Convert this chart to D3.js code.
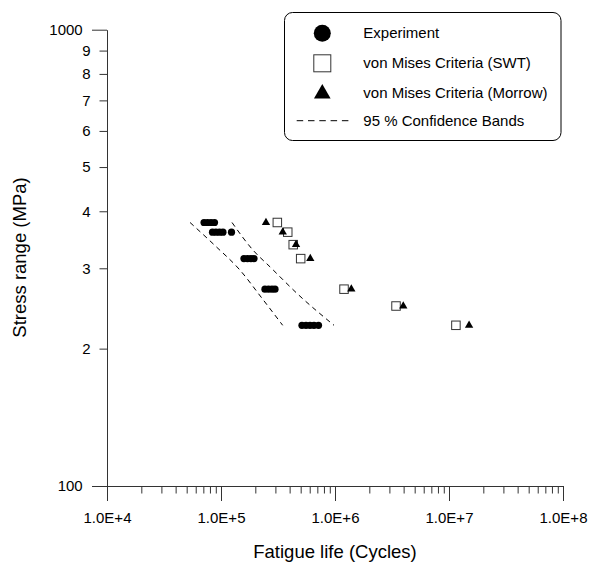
<!DOCTYPE html>
<html>
<head>
<meta charset="utf-8">
<script src="https://cdn.jsdelivr.net/npm/d3@7"></script>
<style>
  html, body { margin: 0; padding: 0; background: #fff; }
  svg { display: block; font-family: "Liberation Sans", Arial, sans-serif; }
</style>
</head>
<body>
<svg id="chart" width="590" height="563"></svg>
<script>
// ---- Data ----
const expCycles = [71000, 76100, 81700, 87700,
                   84200, 90300, 97000, 104000, 123600,
                   159000, 170800, 183000, 194800,
                   243000, 261000, 280000, 297700,
                   513000, 556800, 603600, 654000, 716600];
const expStress = [378, 378, 378, 378,
                   360, 360, 360, 360, 360,
                   315, 315, 315, 315,
                   270, 270, 270, 270,
                   225, 225, 225, 225, 225];

const predStress   = [378, 360, 338, 315, 270, 248, 225];
const swtCycles    = [312000, 385000, 430000, 500000, 1200000, 3430000, 11500000];
const morrowCycles = [248000, 348000, 455000, 607000, 1390000, 3970000, 15000000];

const lowerBandCycles = [53500, 88600, 146800, 228800, 347600];
const lowerBandStress = [378, 336.4, 297.2, 257.9, 225];
const upperBandCycles = [124900, 190900, 269000, 493000, 980000];
const upperBandStress = [378, 328.8, 302.2, 260.6, 225];

const xMajorTicks = [1e4, 1e5, 1e6, 1e7, 1e8];
const xMajorLabels = ["1.0E+4", "1.0E+5", "1.0E+6", "1.0E+7", "1.0E+8"];
const yMajorTicks = [100, 1000];
const yMajorLabels = ["100", "1000"];
const yMinorTicks = [200, 300, 400, 500, 600, 700, 800, 900];
const yMinorLabels = ["2", "3", "4", "5", "6", "7", "8", "9"];

const legendLabels = ["Experiment", "von Mises Criteria (SWT)", "von Mises Criteria (Morrow)", "95 % Confidence Bands"];

// ---- Layout ----
const svg = d3.select("#chart");
const axisColor = "#333";
const x = d3.scaleLog().domain([1e4, 1e8]).range([107, 563]);
const y = d3.scaleLog().domain([100, 1000]).range([486, 29.7]);

const xMinorTicks = [];
[1e4, 1e5, 1e6, 1e7].forEach(d => { for (let k = 2; k <= 9; k++) xMinorTicks.push(d * k); });

function styleAxis(g) {
  g.selectAll("path.domain").attr("stroke", axisColor);
  g.selectAll(".tick line").attr("stroke", axisColor);
  g.selectAll(".tick text").attr("fill", "#000").style("font-size", "15px")
    .style("font-family", '"Liberation Sans", Arial, sans-serif');
}

// x axis minor
svg.append("g").attr("transform", "translate(0,486)")
  .call(d3.axisBottom(x).tickValues(xMinorTicks).tickSize(7.5).tickFormat(""))
  .call(g => g.select(".domain").remove())
  .call(styleAxis);
// x axis major
svg.append("g").attr("transform", "translate(0,486)")
  .call(d3.axisBottom(x).tickValues(xMajorTicks).tickSize(15).tickSizeOuter(0).tickPadding(11.5)
    .tickFormat((d, i) => xMajorLabels[i]))
  .call(styleAxis);

// y axis minor
svg.append("g").attr("transform", "translate(107,0)")
  .call(d3.axisLeft(y).tickValues(yMinorTicks).tickSize(7.5).tickPadding(8.8)
    .tickFormat((d, i) => yMinorLabels[i]))
  .call(g => g.select(".domain").remove())
  .call(styleAxis);
// y axis major
svg.append("g").attr("transform", "translate(107,0)")
  .call(d3.axisLeft(y).tickValues(yMajorTicks).tickSize(15).tickSizeOuter(0).tickPadding(9.3)
    .tickFormat((d, i) => yMajorLabels[i]))
  .call(styleAxis);

// axis titles
svg.append("text").attr("x", 335).attr("y", 557.5).attr("text-anchor", "middle")
  .style("font-size", "18.5px").text("Fatigue life (Cycles)");
svg.append("text").attr("transform", "translate(25.5,257.5) rotate(-90)").attr("text-anchor", "middle")
  .style("font-size", "18.5px").text("Stress range (MPa)");

// confidence bands
const line = d3.line().x(d => x(d[0])).y(d => y(d[1])).curve(d3.curveMonotoneX);
[[lowerBandCycles, lowerBandStress], [upperBandCycles, upperBandStress]].forEach(([cs, ss]) => {
  svg.append("path").datum(cs.map((c, i) => [c, ss[i]]))
    .attr("d", line).attr("fill", "none").attr("stroke", "#000")
    .attr("stroke-width", 1).attr("stroke-dasharray", "5,4");
});

// experiment circles
svg.append("g").selectAll("circle").data(expCycles.map((c, i) => [c, expStress[i]]))
  .join("circle").attr("cx", d => x(d[0])).attr("cy", d => y(d[1])).attr("r", 3.6).attr("fill", "#000");

// SWT squares
const sq = 8.5;
svg.append("g").selectAll("rect").data(swtCycles.map((c, i) => [c, predStress[i]]))
  .join("rect").attr("x", d => x(d[0]) - sq / 2).attr("y", d => y(d[1]) - sq / 2)
  .attr("width", sq).attr("height", sq).attr("fill", "#fff").attr("stroke", "#333").attr("stroke-width", 1);

// Morrow triangles
const tri = d3.symbol().type(d3.symbolTriangle).size(30);
svg.append("g").selectAll("path").data(morrowCycles.map((c, i) => [c, predStress[i]]))
  .join("path").attr("d", tri).attr("transform", d => `translate(${x(d[0])},${y(d[1])})`).attr("fill", "#000");

// legend
const lg = svg.append("g");
lg.append("rect").attr("x", 284.5).attr("y", 12.5).attr("width", 276.5).attr("height", 128)
  .attr("rx", 8).attr("fill", "#fff").attr("stroke", "#000").attr("stroke-width", 1);
const rowY = [33.3, 63.3, 92.7, 120.7];
const mx = 322.3;
lg.append("circle").attr("cx", mx).attr("cy", rowY[0]).attr("r", 8.5).attr("fill", "#000");
lg.append("rect").attr("x", mx - 8.5).attr("y", rowY[1] - 8.5).attr("width", 17).attr("height", 17)
  .attr("fill", "#fff").attr("stroke", "#333").attr("stroke-width", 1);
lg.append("path").attr("d", d3.symbol().type(d3.symbolTriangle).size(120)())
  .attr("transform", `translate(${mx},${rowY[2] + 1})`).attr("fill", "#000");
lg.append("line").attr("x1", 296.7).attr("x2", 348.5).attr("y1", rowY[3]).attr("y2", rowY[3])
  .attr("stroke", "#000").attr("stroke-width", 1).attr("stroke-dasharray", "6.5,4.8");
lg.selectAll("text.lab").data(legendLabels).join("text").attr("class", "lab")
  .attr("x", 363.3).attr("y", (d, i) => rowY[i] + 4.8)
  .style("font-size", "15px").text(d => d);
</script>
</body>
</html>
